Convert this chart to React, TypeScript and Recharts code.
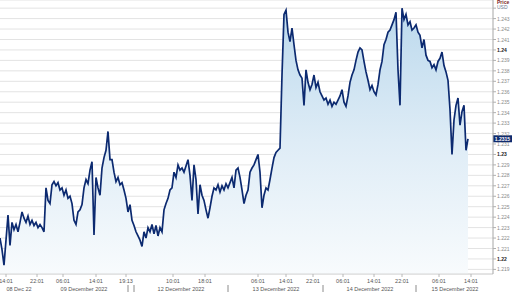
import React from 'react';
import { ComposedChart, Area, XAxis, YAxis, CartesianGrid, ReferenceLine } from 'recharts';

// GBP/USD-style intraday quotes, one sample per step
const prices = [
  1.2220, 1.2209, 1.2194, 1.2218, 1.2242, 1.2213, 1.2235, 1.2228, 1.2233, 1.2226,
  1.2235, 1.2245, 1.2239, 1.2235, 1.2241, 1.2233, 1.2237, 1.2232, 1.2235, 1.2230,
  1.2233, 1.2230, 1.2226, 1.2268, 1.2256, 1.2253, 1.2271, 1.2274, 1.2270, 1.2273,
  1.2266, 1.2268, 1.2261, 1.2266, 1.2258, 1.2260, 1.2253, 1.2237, 1.2233, 1.2245,
  1.2247, 1.2252, 1.2268, 1.2276, 1.2272, 1.2285, 1.2293, 1.2223, 1.2278, 1.2268,
  1.2261, 1.2287, 1.2297, 1.2304, 1.2322, 1.2295, 1.2295, 1.2283, 1.2274, 1.2278,
  1.2271, 1.2273, 1.2266, 1.2258, 1.2245, 1.2252, 1.2237, 1.2232, 1.2226, 1.2222,
  1.2218, 1.2212, 1.2226, 1.2220, 1.2230, 1.2226, 1.2233, 1.2224, 1.2232, 1.2222,
  1.2230, 1.2226, 1.2247, 1.2253, 1.2258, 1.2266, 1.2268, 1.2283, 1.2278, 1.2290,
  1.2285, 1.2287, 1.2283, 1.2289, 1.2295, 1.2280, 1.2256, 1.2290, 1.2276, 1.2243,
  1.2271, 1.2261, 1.2256, 1.2247, 1.2239, 1.2249, 1.2260, 1.2268, 1.2266, 1.2271,
  1.2264, 1.2270, 1.2266, 1.2272, 1.2268, 1.2273, 1.2278, 1.2268, 1.2285, 1.2287,
  1.2278, 1.2266, 1.2253, 1.2261, 1.2266, 1.2283, 1.2287, 1.2290, 1.2295, 1.2300,
  1.2283, 1.2249, 1.2261, 1.2268, 1.2266, 1.2276, 1.2287, 1.2297, 1.2302, 1.2304,
  1.2306, 1.2376, 1.2434, 1.2438, 1.2417, 1.2408, 1.2421, 1.2405, 1.2390, 1.2381,
  1.2376, 1.2373, 1.2347, 1.2381, 1.2369, 1.2362, 1.2367, 1.2376, 1.2364, 1.2369,
  1.2360, 1.2356, 1.2352, 1.2354, 1.2348, 1.2352, 1.2346, 1.2350, 1.2348, 1.2352,
  1.2356, 1.2362, 1.2350, 1.2346, 1.2356, 1.2369, 1.2376, 1.2381, 1.2390, 1.2398,
  1.2402, 1.2400, 1.2389, 1.2379, 1.2371, 1.2362, 1.2366, 1.2360, 1.2357, 1.2367,
  1.2381, 1.2389, 1.2405, 1.2410, 1.2417, 1.2419, 1.2424, 1.2429, 1.2436, 1.2381,
  1.2347, 1.2440, 1.2429, 1.2434, 1.2424, 1.2427, 1.2419, 1.2421, 1.2424, 1.2417,
  1.2414, 1.2402, 1.2410, 1.2395, 1.2390, 1.2389, 1.2383, 1.2386, 1.2381, 1.2389,
  1.2392, 1.2398, 1.2385, 1.2379, 1.2371, 1.2343, 1.2300, 1.2333, 1.2347, 1.2354,
  1.2328, 1.2341, 1.2347, 1.2304, 1.2315,
];

const lastPrice = 1.2315;

// sample positions of the time labels (first row of the x axis)
const timeTicks = [3, 18.5, 31.5, 48, 63, 86.5, 102.5, 129, 143, 156.5, 171.5, 187, 201, 219.5, 235.5];
const timeLabels = ['14:01', '22:01', '06:01', '14:01', '19:13', '10:01', '18:01', '06:01', '14:01', '22:01', '06:01', '14:01', '22:01', '06:01', '14:01'];

// second row: day names and the separators between days
const dateTicks = [9.5, 42, 90.5, 138, 185, 227.5];
const dateLabels = ['08 Dec 22', '09 December 2022', '12 December 2022', '13 December 2022', '14 December 2022', '15 December 2022'];
const daySeparators = [64, 67, 114, 161.5, 208];

const priceTicks = [
  1.219, 1.22, 1.221, 1.222, 1.223, 1.224, 1.225, 1.226, 1.227, 1.228, 1.229, 1.23, 1.231,
  1.232, 1.233, 1.234, 1.235, 1.236, 1.237, 1.238, 1.239, 1.24, 1.241, 1.242, 1.243, 1.244,
];

const data = prices.map((p, i) => ({ i, p }));

const FONT = '"Liberation Sans", Arial, sans-serif';

const TimeAxisTick = (props: any) => {
  const { x, y, payload } = props;
  const v = payload.value;
  const ti = timeTicks.indexOf(v);
  if (ti >= 0) {
    return (
      <g>
        <line x1={x} x2={x} y1={y} y2={y + 3} stroke="#b8b8b8" />
        <text x={x} y={y + 9} textAnchor="middle" fontSize={5.5} fill="#555" fontFamily={FONT}>
          {timeLabels[ti]}
        </text>
      </g>
    );
  }
  const di = dateTicks.indexOf(v);
  if (di >= 0) {
    return (
      <text x={x} y={y + 17} textAnchor="middle" fontSize={5.5} fill="#555" fontFamily={FONT}>
        {dateLabels[di]}
      </text>
    );
  }
  return <line x1={x} x2={x} y1={y + 11} y2={y + 18} stroke="#8c8c8c" />;
};

const PriceAxisTick = (props: any) => {
  const { x, y, payload } = props;
  const v = payload.value;
  if (v > 1.2435) return <g />;
  const major = Math.abs(v * 100 - Math.round(v * 100)) < 1e-6;
  return (
    <text
      x={x}
      y={y}
      dy={2}
      fontSize={5}
      fill={major ? '#222' : '#8a8a8a'}
      fontWeight={major ? 700 : 400}
      fontFamily={FONT}
    >
      {String(Number(v.toFixed(3)))}
    </text>
  );
};

const LastPriceLabel = (props: any) => {
  const { viewBox } = props;
  const x = viewBox.x + viewBox.width;
  const y = viewBox.y;
  return (
    <g>
      <rect x={x} y={y - 3.5} width={19} height={7} fill="#0f2b6e" />
      <text x={x + 9.5} y={y + 2} textAnchor="middle" fontSize={5} fontWeight={700} fill="#fff" fontFamily={FONT}>
        {lastPrice}
      </text>
    </g>
  );
};

export default function App() {
  return (
    <div style={{ position: 'absolute', left: 0, top: 0, width: 512, height: 292, background: '#fff' }}>
      <ComposedChart width={512} height={292} data={data} margin={{ top: 0, right: 0, bottom: 0, left: 0 }}>
        <defs>
          <linearGradient id="priceFill" x1="0" y1="0" x2="0" y2="1">
            <stop offset="0%" stopColor="#bcd9ed" />
            <stop offset="50%" stopColor="#deecf6" />
            <stop offset="100%" stopColor="#f8fbfd" />
          </linearGradient>
        </defs>
        <CartesianGrid vertical={false} stroke="#e3e3e3" />
        <XAxis
          type="number"
          dataKey="i"
          domain={[0, 246.5]}
          allowDataOverflow
          ticks={[...timeTicks, ...dateTicks, ...daySeparators]}
          interval={0}
          tick={TimeAxisTick}
          tickLine={false}
          tickSize={0}
          tickMargin={0}
          axisLine={{ stroke: '#d6d6d6' }}
          height={18}
        />
        <YAxis
          orientation="right"
          type="number"
          domain={[1.21856, 1.24478]}
          allowDataOverflow
          ticks={priceTicks}
          interval={0}
          tick={PriceAxisTick}
          tickLine={{ stroke: '#b0b0b0' }}
          tickSize={3}
          tickMargin={1}
          axisLine={{ stroke: '#a6a6a6' }}
          width={19}
        />
        <Area
          type="linear"
          dataKey="p"
          stroke="#0c2a70"
          strokeWidth={1.7}
          strokeLinejoin="miter"
          fill="url(#priceFill)"
          fillOpacity={1}
          dot={false}
          activeDot={false}
          isAnimationActive={false}
        />
        <ReferenceLine y={lastPrice} stroke="none" label={<LastPriceLabel />} />
      </ComposedChart>
      <div style={{ position: 'absolute', left: 497, top: 0, fontFamily: FONT, fontSize: 5, lineHeight: '5px' }}>
        <div style={{ color: '#7a1f1f', fontWeight: 700 }}>Price</div>
        <div style={{ color: '#6a7890' }}>USD</div>
      </div>
    </div>
  );
}
